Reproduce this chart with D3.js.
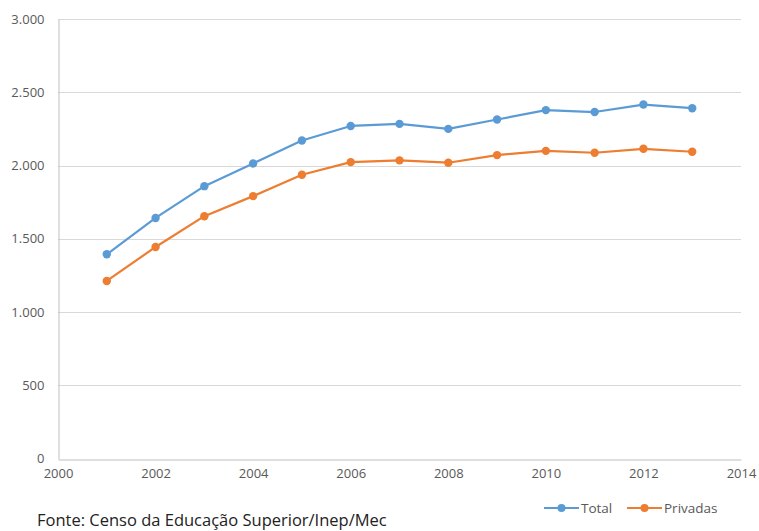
<!DOCTYPE html>
<html>
<head>
<meta charset="utf-8">
<script src="https://cdn.jsdelivr.net/npm/d3@7"></script>
<style>
  body { margin: 0; background: #fff; overflow: hidden; }
  text { font-family: "Open Sans", "Noto Sans", sans-serif; }
</style>
</head>
<body>
<script>
// dados
var years = [2001, 2002, 2003, 2004, 2005, 2006, 2007, 2008, 2009, 2010, 2011, 2012, 2013];
var total = [1394, 1642, 1859, 2014, 2171, 2270, 2284, 2250, 2314, 2378, 2365, 2416, 2391];
var privadas = [1212, 1444, 1654, 1791, 1937, 2023, 2035, 2019, 2071, 2100, 2087, 2114, 2094];
var xTicks = [2000, 2002, 2004, 2006, 2008, 2010, 2012, 2014];
var yTicks = [0, 500, 1000, 1500, 2000, 2500, 3000];
var seriesNames = ["Total", "Privadas"];
var colors = ["#5B9BD5", "#ED7D31"];
var source = "Fonte: Censo da Educação Superior/Inep/Mec";

var W = 759, H = 531;
var svg = d3.select("body").append("svg").attr("width", W).attr("height", H);

var x = d3.scaleLinear().domain([2000, 2014]).range([58, 741]);
var y = d3.scaleLinear().domain([0, 3000]).range([458.5, 19]);

var fmt = function(d) { return d3.format(",")(d).replace(/,/g, "."); };

// grid
svg.append("g").selectAll("line").data(yTicks.slice(1)).enter().append("line")
  .attr("x1", x(2000)).attr("x2", x(2014))
  .attr("y1", function(d) { return Math.round(y(d)) + 0.5; })
  .attr("y2", function(d) { return Math.round(y(d)) + 0.5; })
  .attr("stroke", "#d9d9d9").attr("stroke-width", 1);

// eixos
var yAxis = svg.append("g").attr("transform", "translate(" + (x(2000) + 0.5) + ",0)")
  .call(d3.axisLeft(y).tickValues(yTicks).tickFormat(fmt).tickSize(0).tickPadding(14));
var xAxis = svg.append("g").attr("transform", "translate(0," + (Math.round(y(0)) + 0.5) + ")")
  .call(d3.axisBottom(x).tickValues(xTicks).tickFormat(d3.format("d")).tickSize(0).tickPadding(9));
[yAxis, xAxis].forEach(function(a) {
  a.select(".domain").attr("stroke", "#bfbfbf");
  a.selectAll("text").attr("fill", "#595959").style("font-size", "13px");
});

var seriesData = [total, privadas];
var line = d3.line().x(function(d) { return x(d[0]); }).y(function(d) { return y(d[1]); });

seriesData.forEach(function(vals, i) {
  var pts = years.map(function(yr, j) { return [yr, vals[j]]; });
  svg.append("path").datum(pts).attr("d", line)
    .attr("fill", "none").attr("stroke", colors[i]).attr("stroke-width", 2.2)
    .attr("stroke-linejoin", "round");
  svg.append("g").selectAll("circle").data(pts).enter().append("circle")
    .attr("cx", function(d) { return x(d[0]); })
    .attr("cy", function(d) { return y(d[1]); })
    .attr("r", 4.2).attr("fill", colors[i]);
});

// legenda
var legX = [544, 627];
var leg = svg.append("g").selectAll("g").data(seriesNames).enter().append("g")
  .attr("transform", function(d, i) { return "translate(" + legX[i] + ",508)"; });
leg.append("line").attr("x1", 0).attr("x2", 35).attr("y1", 0).attr("y2", 0)
  .attr("stroke", function(d, i) { return colors[i]; }).attr("stroke-width", 2.2);
leg.append("circle").attr("cx", 17.5).attr("cy", 0).attr("r", 4)
  .attr("fill", function(d, i) { return colors[i]; });
leg.append("text").attr("x", 37).attr("y", 5).text(function(d) { return d; })
  .attr("fill", "#595959").style("font-size", "13.5px");

// fonte
svg.append("text").attr("x", 37).attr("y", 526).text(source)
  .attr("fill", "#222").style("font-size", "16.5px");
</script>
</body>
</html>
